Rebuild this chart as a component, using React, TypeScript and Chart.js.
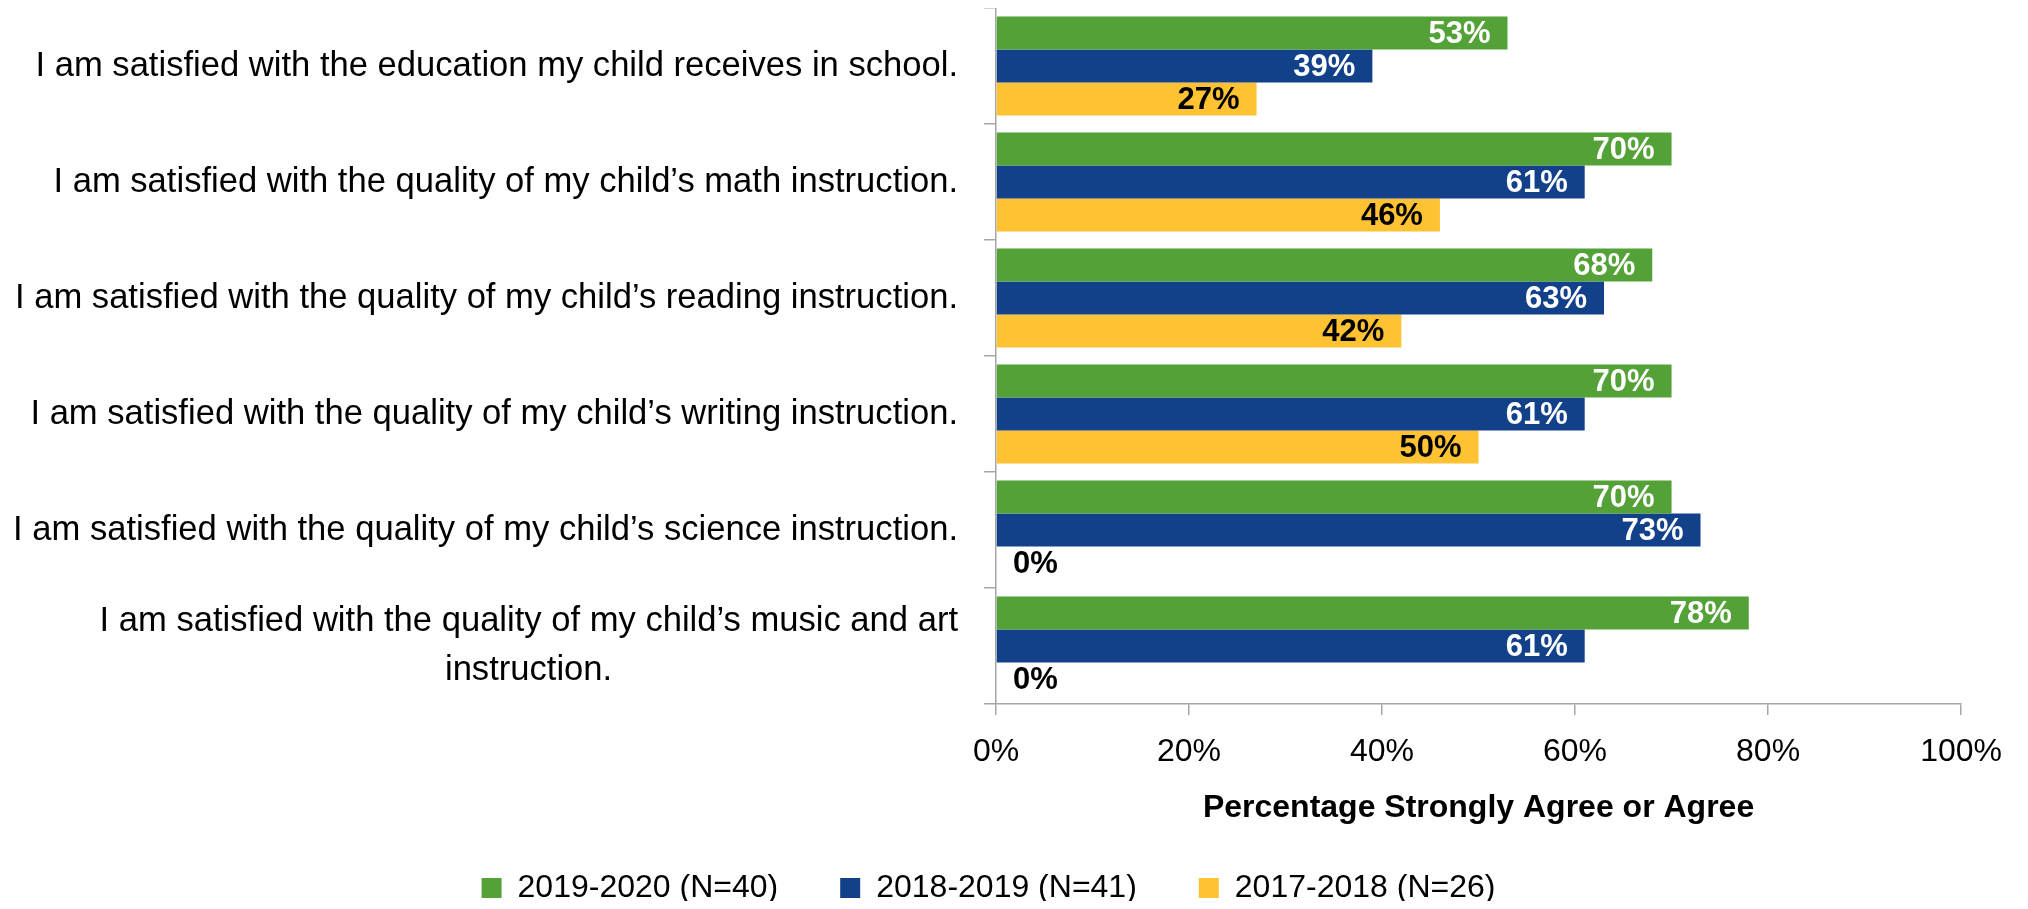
import React, { useEffect, useRef } from "react";
import { Chart, registerables } from "chart.js";

Chart.register(...registerables);

// ---------- data ----------
const categories: string[][] = [
  ["I am satisfied with the education my child receives in school."],
  ["I am satisfied with the quality of my child’s math instruction."],
  ["I am satisfied with the quality of my child’s reading instruction."],
  ["I am satisfied with the quality of my child’s writing instruction."],
  ["I am satisfied with the quality of my child’s science instruction."],
  ["I am satisfied with the quality of my child’s music and art", "instruction."],
];
const seriesNames = ["2019-2020 (N=40)", "2018-2019 (N=41)", "2017-2018 (N=26)"];
const values2019_2020 = [53, 70, 68, 70, 70, 78];
const values2018_2019 = [39, 61, 63, 61, 73, 61];
const values2017_2018 = [27, 46, 42, 50, 0, 0];
const xTickValues = [0, 20, 40, 60, 80, 100];
const xAxisTitle = "Percentage Strongly Agree or Agree";

// ---------- styles ----------
const FONT = '"Liberation Sans", Arial, sans-serif';
const COLORS = ["#53A137", "#12418A", "#FFC232"];
const LABEL_COLORS = ["#FFFFFF", "#FFFFFF", "#000000"];
const GRAY = "#A6A6A6";
const CAT_FONT_SIZE = 34.6;

const valueLabelPlugin = {
  id: "valueLabels",
  afterDatasetsDraw(chart: any) {
    const ctx = chart.ctx;
    ctx.save();
    ctx.font = `bold 31px ${FONT}`;
    ctx.textBaseline = "middle";
    chart.data.datasets.forEach((ds: any, i: number) => {
      const meta = chart.getDatasetMeta(i);
      meta.data.forEach((bar: any, j: number) => {
        const v = ds.data[j] as number;
        const { x, y, base } = bar.getProps(["x", "y", "base"], true);
        const text = `${v}%`;
        if (v > 0) {
          ctx.textAlign = "right";
          ctx.fillStyle = LABEL_COLORS[i];
          ctx.fillText(text, x - 17, y + 1);
        } else {
          ctx.textAlign = "left";
          ctx.fillStyle = "#000000";
          ctx.fillText(text, base + 17, y + 1);
        }
      });
    });
    ctx.restore();
  },
};

export default function App() {
  const ref = useRef<HTMLCanvasElement | null>(null);

  useEffect(() => {
    if (!ref.current) return;
    Chart.defaults.font.family = FONT;

    // centre the wrapped second line under the first (labels are right-aligned)
    const m = document.createElement("canvas").getContext("2d")!;
    m.font = `${CAT_FONT_SIZE}px ${FONT}`;
    const spaceW = m.measureText(" ").width;
    const labels = categories.map((lines) => {
      if (lines.length < 2) return lines[0];
      const w0 = m.measureText(lines[0]).width;
      return lines.map((l) => {
        const w = m.measureText(l).width;
        const n = Math.max(0, Math.round((w0 - w) / 2 / spaceW));
        return l + " ".repeat(n);
      });
    });

    const chart = new Chart(ref.current, {
      type: "bar",
      data: {
        labels,
        datasets: [
          { label: seriesNames[0], data: values2019_2020, backgroundColor: COLORS[0], borderWidth: 0 },
          { label: seriesNames[1], data: values2018_2019, backgroundColor: COLORS[1], borderWidth: 0 },
          { label: seriesNames[2], data: values2017_2018, backgroundColor: COLORS[2], borderWidth: 0 },
        ],
      },
      options: {
        indexAxis: "y",
        responsive: false,
        animation: false,
        datasets: { bar: { barPercentage: 1, categoryPercentage: 0.853 } },
        layout: { padding: { top: 0, left: 0, right: 51, bottom: -13 } },
        plugins: {
          tooltip: { enabled: false },
          legend: {
            position: "bottom",
            labels: {
              boxWidth: 20,
              boxHeight: 20,
              padding: 62,
              color: "#000000",
              font: { size: 32 },
            },
          },
        },
        scales: {
          x: {
            min: 0,
            max: 100,
            afterBuildTicks: (s: any) => {
              s.ticks = xTickValues.map((v) => ({ value: v }));
            },
            ticks: {
              callback: (v: any) => `${v}%`,
              color: "#000000",
              font: { size: 32 },
              padding: 18,
              maxRotation: 0,
            },
            grid: { drawOnChartArea: false, tickLength: 11, color: GRAY, lineWidth: 1.5 },
            border: { color: GRAY, width: 1.5 },
            title: {
              display: true,
              text: xAxisTitle,
              color: "#000000",
              font: { size: 32, weight: "bold" },
              padding: { top: 0, bottom: -17 },
            },
            afterFit: (s: any) => {
              s.height = 106;
            },
          },
          y: {
            ticks: {
              color: "#000000",
              font: { size: CAT_FONT_SIZE, lineHeight: 1.4 },
              padding: 26,
            },
            grid: { drawOnChartArea: false, tickLength: 12, color: GRAY, lineWidth: 1.5 },
            border: { color: GRAY, width: 1.5 },
            afterFit: (s: any) => {
              s.width = 988;
              s.paddingTop = 0;
              s.paddingBottom = 0;
            },
          },
        },
      } as any,
      plugins: [valueLabelPlugin],
    });
    return () => chart.destroy();
  }, []);

  return (
    <div style={{ width: 2012, height: 893 }}>
      <canvas ref={ref} width={2012} height={893} style={{ width: 2012, height: 893, display: "block" }} />
    </div>
  );
}
